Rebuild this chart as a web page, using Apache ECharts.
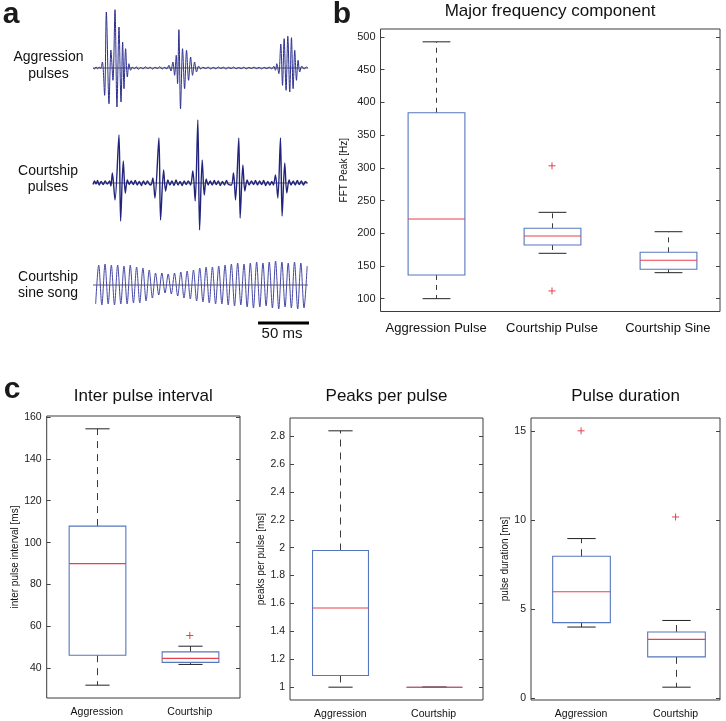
<!DOCTYPE html>
<html><head><meta charset="utf-8">
<script src="https://cdn.jsdelivr.net/npm/echarts@6/dist/echarts.min.js"></script>
<style>html,body{margin:0;padding:0;background:#fff}#c{width:726px;height:721px}</style>
</head><body><div id="c"></div><script>
// ---------------- data ----------------
// panel a: traces, [time ms, amplitude a.u.]
const aggressionTrace = [[0,0],[1.5,-1],[3,1.2],[4.5,-0.8],[6,1],[7.5,-0.5],
[9.2,6],[11.4,-27.3],[13.1,56],[15.7,-35.7],[17.6,18],[19.6,-12.3],[21.6,58.3],[23.5,-39],[25.5,41],[27.5,-34],[29.1,26],[30.4,-20.7],[32.0,19.3],[33.7,-9],[35.3,4.3],[36.9,-2.3],[38.6,1],
[40.5,-0.8],[42.5,1.2],[44.5,-1.3],[47,0.6],[49,-1],[51.5,1.2],[54,-0.6],[56,0.9],[58.5,-1.1],[61,0.8],[63,-0.5],[65.5,1.3],[68,-1],[70,0.6],[72.5,-0.8],
[74.5,2.7],[76.5,-3],[78.4,6],[80.1,-7.3],[81.7,12.7],[83.0,-15.7],[84.3,38.3],[85.9,-40.7],[87.9,19.3],[89.9,-20.7],[91.8,17.7],[93.8,-12.3],[95.8,11],[97.7,-7.3],[99.7,6],[101.6,-4],[103.6,2],[105.6,-1],
[108,0.8],[110.5,-0.6],[113,0.9],[115.5,-1],[118,0.6],[120.5,-0.8],[123,1],[125.5,-0.5],[128,0.8],[130.5,-1],[133,0.7],[135.5,-0.6],[138,0.9],[140.5,-0.8],[143,0.5],[145.5,-0.7],[148,0.8],[150.5,-0.9],[153,0.6],[155.5,-0.5],[158,0.9],[160.5,-0.7],[163,0.6],[165.5,-0.9],[168,0.7],[170.5,-0.6],[173,0.8],[175.5,-0.8],
[177.5,1.7],[179.1,-2.3],[180.4,4.3],[182.4,-5.7],[184.3,24],[186.0,-17.3],[187.6,29.3],[189.5,-22.3],[191.2,31.7],[193.1,-24],[194.8,30.3],[196.4,-20.7],[198.0,17.7],[199.7,-12.3],[201.3,7.7],[202.9,-4],[204.9,2],[207.2,-1],[209.2,1],[210.8,0]];

const courtshipTrace = [[0,-1.5],[1.5,2],[3,-1],[4.5,2.5],[6,-2],[8,1.5],[10,-1.5],[12,2],[14,-1],
[16.3,2],[17.6,-3],[19.0,10],[21.6,-17],[25.5,48],[27.1,-38],[29.7,22],[31.7,-10],[33.7,3],[35.6,-1.5],
[37.5,2],[39.5,-1.5],[41.5,2.5],[43.5,-2],[45.5,1.5],[47.5,-2.5],[49.5,2],[51.5,-1.5],[53.5,2],[55.2,-1],
[56.9,-2],[58.8,5],[60.8,-15],[64.7,45],[66.3,-37],[69.3,13],[71.2,-8],[73.5,3],[75.5,-2],
[77.5,2],[79.5,-2.5],[81.5,3],[83.5,-2],[85.5,1.5],[87.5,-2.5],[89.5,2],[91.5,-1.5],[93.5,2],
[95.8,-2],[98.0,12],[100.3,-18],[102.9,63],[104.6,-47],[107.2,23],[109.2,-12],[111.1,4],[113.1,-2],
[115,2],[117,-2],[119,2.5],[121,-1.5],[123,2],[125,-2.5],[127,1.5],[129,-2],[131,2.5],[133,-1.5],
[135.9,-2],[137.9,10],[139.9,-17],[143.1,45],[144.4,-35],[147.1,18],[149.0,-8],[151.3,3],[153.3,-2],
[155.5,2],[157.5,-1.5],[159.5,2.5],[161.5,-2],[163.5,2],[165.5,-1.5],[167.5,2.5],[169.5,-2.5],[171.5,1.5],[173.5,-2],[175.5,1.5],
[177.1,-2],[179.1,8],[181.4,-15],[184.0,45],[185.6,-33],[188.2,20],[190.2,-10],[192.5,3],[194.4,-2],
[196.5,2],[198.5,-2],[200.5,2.5],[202.5,-1.5],[204.5,2],[206.5,-2],[208.5,1.5],[210,0]];

const sineTrace = [[2.6,-19],[5.6,20],[8.7,-20],[11.8,21],[14.9,-19],[18.0,20],[21.1,-20],[24.2,20],[27.3,-19],[30.4,19],[33.5,-19],[36.6,20],[39.7,-18],[42.8,18],[45.9,-18],[49.0,17],[52.1,-16],[55.2,15],[58.3,-13],[61.4,12],[64.5,-10],[67.6,12],[70.7,-8],[73.8,11],[76.9,-9],[80.0,12],[83.1,-11],[86.2,13],[89.3,-13],[92.4,14],[95.5,-14],[98.6,15],[101.7,-16],[104.8,17],[107.9,-17],[111.0,18],[114.1,-18],[117.2,18],[120.3,-19],[123.4,19],[126.5,-19],[129.6,20],[132.7,-20],[135.8,21],[138.9,-21],[142.0,22],[145.1,-20],[148.2,21],[151.3,-22],[154.4,22],[157.5,-23],[160.6,23],[163.7,-22],[166.8,22],[169.9,-21],[173.0,23],[176.1,-23],[179.2,24],[182.3,-24],[185.4,23],[188.5,-22],[191.6,22],[194.7,-23],[197.8,23],[200.9,-24],[204.0,22],[207.1,-23],[210.2,19]];

const scaleBarMs = [162, 212];   // 50 ms scale bar
const scaleBarLabel = '50 ms';

// panel b
const freqCategories = ['Aggression Pulse', 'Courtship Pulse', 'Courtship Sine'];
// [lower whisker, Q1, median, Q3, upper whisker]
const freqAggression = [100, 136.2, 221.7, 384, 492.4];
const freqCourtPulse = [169.3, 182, 195.7, 207.5, 231.9];
const freqCourtSine = [139.7, 144.9, 158.6, 170.8, 202.3];
const freqOutliers = [[2, 303], [2, 111.8]];
const freqTicks = [100, 150, 200, 250, 300, 350, 400, 450, 500];

// panel c
const cCategories = ['Aggression', 'Courtship'];
const ipiAggression = [32.0, 46.3, 90.0, 107.9, 154.3];
const ipiCourtship = [41.9, 42.9, 44.8, 47.9, 50.6];
const ipiOutliers = [[2, 55.7]];
const ipiTicks = [40, 60, 80, 100, 120, 140, 160];

const ppAggression = [1.0, 1.084, 1.568, 1.98, 2.838];
const ppCourtship = [1, 1, 1, 1, 1];
const ppOutliers = [];
const ppTicks = [1, 1.2, 1.4, 1.6, 1.8, 2, 2.2, 2.4, 2.6, 2.8];

const durAggression = [4.0, 4.25, 5.98, 7.97, 8.96];
const durCourtship = [0.63, 2.33, 3.31, 3.72, 4.37];
const durOutliers = [[1, 15.0], [2, 10.17]];
const durTicks = [0, 5, 10, 15];

// ---------------- rendering ----------------
const FONT = "'Liberation Sans', Arial, Helvetica, sans-serif";
const BOX_BLUE = '#5677bd';
const MED_RED = '#e5404c';
const WHISK = '#3a3a3a';

function padRange(boxes, outliers) {
  const vals = [];
  boxes.forEach(b => b.forEach(v => vals.push(v)));
  outliers.forEach(o => vals.push(o[1]));
  const lo = Math.min(...vals), hi = Math.max(...vals);
  const p = (hi - lo) * 0.05;
  return [lo - p, hi + p];
}

function boxRenderer(boxW, capW, dash) {
  return function (params, api) {
    const x = api.value(0);
    const pLo = api.coord([x, api.value(1)]);
    const pQ1 = api.coord([x, api.value(2)]);
    const pMed = api.coord([x, api.value(3)]);
    const pQ3 = api.coord([x, api.value(4)]);
    const pHi = api.coord([x, api.value(5)]);
    const hw = api.size([boxW, 0])[0] / 2;
    const hc = api.size([capW, 0])[0] / 2;
    const cx = Math.round(pMed[0]) + 0.5;
    const ws = {stroke: WHISK, lineWidth: 1, lineDash: dash, fill: null};
    const cs = {stroke: '#222', lineWidth: 1, fill: null};
    return {type: 'group', children: [
      {type: 'line', shape: {x1: cx, y1: pQ3[1], x2: cx, y2: pHi[1]}, style: ws},
      {type: 'line', shape: {x1: cx, y1: pQ1[1], x2: cx, y2: pLo[1]}, style: ws},
      {type: 'line', shape: {x1: cx - hc, y1: pHi[1], x2: cx + hc, y2: pHi[1]}, style: cs},
      {type: 'line', shape: {x1: cx - hc, y1: pLo[1], x2: cx + hc, y2: pLo[1]}, style: cs},
      {type: 'rect', shape: {x: cx - hw, y: pQ3[1], width: 2 * hw, height: pQ1[1] - pQ3[1]}, style: {stroke: BOX_BLUE, lineWidth: 1.1, fill: null}},
      {type: 'line', shape: {x1: cx - hw, y1: pMed[1], x2: cx + hw, y2: pMed[1]}, style: {stroke: MED_RED, lineWidth: 1.1}}
    ]};
  };
}
function plusRenderer(params, api) {
  const p = api.coord([api.value(0), api.value(1)]);
  const s = 3.5;
  const st = {stroke: '#e3414d', lineWidth: 1};
  return {type: 'group', children: [
    {type: 'line', shape: {x1: p[0] - s, y1: p[1], x2: p[0] + s, y2: p[1]}, style: st},
    {type: 'line', shape: {x1: p[0], y1: p[1] - s, x2: p[0], y2: p[1] + s}, style: st}
  ]};
}

const grids = [], xAxes = [], yAxes = [], series = [];

// trace grids
const traceSpecs = [
  {data: aggressionTrace, top: 5, height: 108, min: -45, max: 63, color: '#2c2f8e', w: 1},
  {data: courtshipTrace, top: 117, height: 116, min: -50, max: 66, color: '#21247a', w: 1.4},
  {data: sineTrace, top: 257, height: 56, min: -28, max: 28, color: '#4547a6', w: 1}
];
traceSpecs.forEach((s, i) => {
  grids.push({left: 93, top: s.top, width: 216, height: s.height, show: false, outerBoundsMode: 'none'});
  xAxes.push({gridIndex: i, type: 'value', min: 0, max: 212, show: false});
  yAxes.push({gridIndex: i, type: 'value', min: s.min, max: s.max, show: false});
  series.push({type: 'line', xAxisIndex: i, yAxisIndex: i, data: [[0, 0], [211, 0]], symbol: 'none', silent: true,
    lineStyle: {color: '#333', width: 0.8}, z: 2});
  series.push({type: 'line', xAxisIndex: i, yAxisIndex: i, data: s.data, symbol: 'none', smooth: 0.3, silent: true,
    lineStyle: {color: s.color, width: s.w}, z: 3});
});
// scale bar grid
grids.push({left: 93, top: 320, width: 216, height: 6, show: false, outerBoundsMode: 'none'});
xAxes.push({gridIndex: 3, type: 'value', min: 0, max: 212, show: false});
yAxes.push({gridIndex: 3, type: 'value', min: -1, max: 1, show: false});
series.push({type: 'line', xAxisIndex: 3, yAxisIndex: 3, data: scaleBarMs.map(t => [t, 0]), symbol: 'none', silent: true,
  lineStyle: {color: '#000', width: 3, cap: 'butt'}});

// box panels
function boxPanel(cfg) {
  const gi = grids.length;
  grids.push({left: cfg.left, top: cfg.top, width: cfg.width, height: cfg.height, show: true,
    borderColor: '#3c3c3c', borderWidth: 1, backgroundColor: 'transparent', outerBoundsMode: 'none'});
  const xi = xAxes.length;
  xAxes.push({gridIndex: gi, type: 'value', min: cfg.xMin, max: cfg.xMax, splitLine: {show: false},
    axisLine: {show: false}, axisTick: {show: false},
    axisLabel: {customValues: cfg.categories.map((c, k) => k + 1), formatter: v => cfg.categories[Math.round(v) - 1] || '',
      fontSize: cfg.catFont, margin: cfg.catMargin, color: '#111', fontFamily: FONT}});
  const range = padRange(cfg.boxes, cfg.outliers);
  const yi = yAxes.length;
  yAxes.push({gridIndex: gi, type: 'value', position: 'left', min: range[0], max: range[1], splitLine: {show: false},
    axisLine: {show: false},
    axisTick: {show: true, inside: true, length: 4, customValues: cfg.ticks, lineStyle: {color: '#444'}},
    axisLabel: {customValues: cfg.ticks, fontSize: cfg.tickFont, margin: 5, color: '#222', fontFamily: FONT},
    name: cfg.yName, nameLocation: 'middle', nameGap: cfg.nameGap,
    nameTextStyle: {fontSize: 10, color: '#111', fontFamily: FONT}});
  yAxes.push({gridIndex: gi, type: 'value', position: 'right', min: range[0], max: range[1], splitLine: {show: false},
    axisLine: {show: false}, axisLabel: {show: false},
    axisTick: {show: true, inside: true, length: 4, customValues: cfg.ticks, lineStyle: {color: '#444'}}});
  series.push({type: 'custom', xAxisIndex: xi, yAxisIndex: yi, silent: true,
    renderItem: boxRenderer(cfg.boxW, cfg.capW, cfg.dash),
    encode: {x: 0, y: [1, 2, 3, 4, 5]},
    data: cfg.boxes.map((b, k) => [k + 1].concat(b))});
  if (cfg.outliers.length) {
    series.push({type: 'custom', xAxisIndex: xi, yAxisIndex: yi, silent: true, renderItem: plusRenderer,
      encode: {x: 0, y: 1}, data: cfg.outliers, z: 5});
  }
}

boxPanel({left: 380.5, top: 29, width: 339.5, height: 282.5, xMin: 0.52, xMax: 3.45,
  categories: freqCategories, boxes: [freqAggression, freqCourtPulse, freqCourtSine], outliers: freqOutliers,
  ticks: freqTicks, yName: 'FFT Peak [Hz]', nameGap: 31, catFont: 13, catMargin: 10, tickFont: 11,
  boxW: 0.49, capW: 0.24, dash: [5, 5]});
boxPanel({left: 46.7, top: 416, width: 193.3, height: 282, xMin: 0.46, xMax: 2.54,
  categories: cCategories, boxes: [ipiAggression, ipiCourtship], outliers: ipiOutliers,
  ticks: ipiTicks, yName: 'inter pulse interval [ms]', nameGap: 26, catFont: 10.5, catMargin: 9, tickFont: 10.5,
  boxW: 0.61, capW: 0.26, dash: [7, 6]});
boxPanel({left: 290, top: 418, width: 193, height: 282, xMin: 0.46, xMax: 2.53,
  categories: cCategories, boxes: [ppAggression, ppCourtship], outliers: ppOutliers,
  ticks: ppTicks, yName: 'peaks per pulse [ms]', nameGap: 22, catFont: 10.5, catMargin: 9, tickFont: 10.5,
  boxW: 0.6, capW: 0.26, dash: [7, 6]});
boxPanel({left: 531, top: 418, width: 189, height: 282, xMin: 0.47, xMax: 2.47,
  categories: cCategories, boxes: [durAggression, durCourtship], outliers: durOutliers,
  ticks: durTicks, yName: 'pulse duration [ms]', nameGap: 21, catFont: 10.5, catMargin: 9, tickFont: 10.5,
  boxW: 0.61, capW: 0.3, dash: [7, 6]});

function txt(text, x, y, size, bold) {
  return {type: 'text', x: x, y: y, silent: true,
    style: {text: text, align: 'center', verticalAlign: 'middle', fontSize: size,
      fontWeight: bold ? 'bold' : 'normal', fontFamily: FONT, fill: bold ? '#1a1a1a' : '#111'}};
}
const graphics = [
  txt('a', 11, 15, 30, true), txt('b', 342, 15, 30, true), txt('c', 12, 390, 30, true),
  txt('Aggression', 48.5, 57, 14), txt('pulses', 48.5, 74, 14),
  txt('Courtship', 48, 171, 14), txt('pulses', 48, 187, 14),
  txt('Courtship', 48, 277, 14), txt('sine song', 48, 293, 14),
  txt(scaleBarLabel, 282, 334, 15),
  txt('Major frequency component', 550, 11, 17),
  txt('Inter pulse interval', 143.3, 396, 17),
  txt('Peaks per pulse', 386.5, 396, 17),
  txt('Pulse duration', 625.5, 396, 17)
];

const chart = echarts.init(document.getElementById('c'), null, {renderer: 'canvas'});
chart.setOption({
  animation: false,
  backgroundColor: '#fff',
  grid: grids, xAxis: xAxes, yAxis: yAxes, series: series,
  graphic: graphics
});
</script></body></html>
